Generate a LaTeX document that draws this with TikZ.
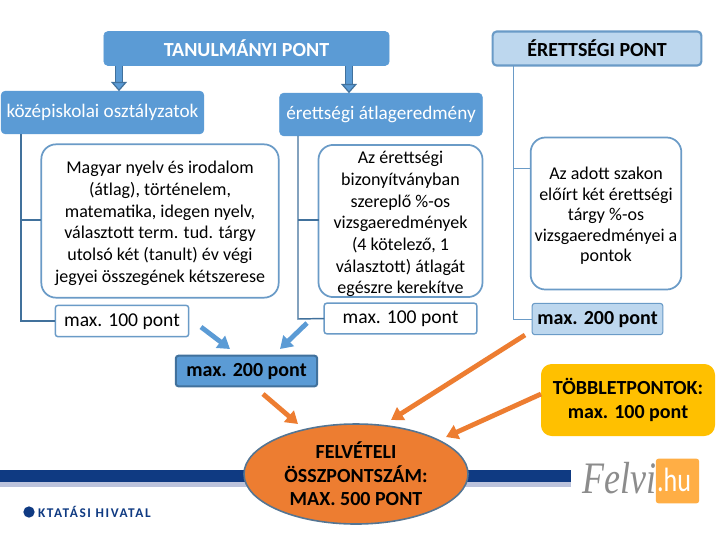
\documentclass[tikz,border=0pt]{standalone}
\usepackage{fontspec}
\setmainfont{Carlito}
\newfontfamily\felvifont{Liberation Serif}
\usetikzlibrary{shapes.geometric,arrows.meta,calc}
\definecolor{mblue}{HTML}{5B9BD5}
\definecolor{dblue}{HTML}{41719C}
\definecolor{lblue}{HTML}{BDD7EE}
\definecolor{edgeb}{HTML}{6A9BC7}
\definecolor{morange}{HTML}{ED7D31}
\definecolor{mgold}{HTML}{FFC000}
\definecolor{barblue}{HTML}{0F3A82}
\definecolor{barlight}{HTML}{BCC3DC}
\definecolor{felvi}{HTML}{FFAE45}
\tikzset{
  x=0.75pt,y=-0.75pt,
  base/.style={inner sep=0pt,outer sep=0pt,align=center,anchor=center},
  low/.style={text height=10pt,text depth=2.5pt},
  bluehead/.style={base,rectangle,rounded corners=3pt,fill=mblue,draw=mblue},
  bodybox/.style={base,rectangle,rounded corners=11pt,draw=edgeb,line width=1.3pt,fill=white,font=\fontsize{13.5}{16.3}\selectfont},
  maxbox/.style={base,low,rectangle,rounded corners=2pt,draw=edgeb,line width=1.1pt,fill=white,font=\fontsize{14.7}{15}\selectfont},
  tree/.style={draw=dblue,line width=1.1pt},
  ltree/.style={draw=edgeb,line width=0.7pt},
  bluearrow/.style={draw=mblue,line width=3.6pt,-{Triangle[length=9pt,width=11pt]}},
  orangearrow/.style={draw=morange,line width=3.6pt,-{Triangle[length=9pt,width=11pt]}},
  downarrow/.style={draw=dblue,double=mblue,double distance=4pt,line width=0.9pt,-{Triangle[length=7pt,width=12pt,fill=mblue,color=dblue]}},
}
\begin{document}
\begin{tikzpicture}
\useasboundingbox[fill=white] (0,0) rectangle (720,540);
% footer bars
\fill[barblue] (0,470) rectangle (571,482);
\fill[barlight] (0,482) rectangle (571,487);
\node[base,circle,fill=barblue,minimum size=8.5pt] (kdot) at (29,512) {};
\node[base,anchor=west,text=barblue,font=\fontsize{10}{10}\selectfont\bfseries\addfontfeature{LetterSpace=12}] (kt) at (38,512) {KTATÁSI HIVATAL};
% felvi logo
\node[base,rectangle,rounded corners=2pt,fill=felvi,minimum width=32.5pt,minimum height=33.5pt] (hubox) at (677.5,481) {};
\node[base,text=white,font=\fontsize{23}{23}\selectfont] (hu) at (674,480) {\scalebox{0.85}[1.1]{.hu}};
\node[base,text=gray!90,font=\fontsize{27}{27}\selectfont\felvifont\itshape] (fv) at (619,478) {\scalebox{1}[1.25]{Felvi}};
% head boxes
\node[bluehead,minimum width=214pt,minimum height=25.5pt,text=white,font=\fontsize{15}{15}\selectfont\bfseries] (tan) at (246.5,48.5) {TANULMÁNYI PONT};
\node[base,rectangle,rounded corners=3pt,fill=lblue,draw=edgeb,line width=1.6pt,minimum width=156.5pt,minimum height=25.5pt,font=\fontsize{15}{15}\selectfont\bfseries] (ere) at (597,48.5) {ÉRETTSÉGI PONT};
\node[bluehead,minimum width=152pt,minimum height=32pt,text=white,font=\fontsize{14.4}{15}\selectfont] (koz) at (102.5,112.5) {középiskolai osztályzatok};
\node[bluehead,minimum width=152pt,minimum height=32pt,text=white,font=\fontsize{14.4}{15}\selectfont] (atl) at (381,114.5) {érettségi átlageredmény};
% body boxes
\node[bodybox,minimum width=178pt,minimum height=115pt] (b1) at (160,221) {\rule{0pt}{13pt}Magyar nyelv és irodalom\\(átlag), történelem,\\matematika, idegen nyelv,\\választott term. tud. tárgy\\utolsó két (tanult) év végi\\jegyei összegének kétszerese};
\node[bodybox,minimum width=123pt,minimum height=112pt] (b2) at (400.5,221) {\rule{0pt}{14pt}Az érettségi\\bizonyítványban\\szereplő \%-os\\vizsgaeredmények\\(4 kötelező, 1\\választott) átlagát\\egészre kerekítve};
\node[bodybox,minimum width=113pt,minimum height=114pt,font=\fontsize{13.5}{15.3}\selectfont] (b3) at (606,213.5) {\rule{0pt}{13pt}Az adott szakon\\előírt két érettségi\\tárgy \%-os\\vizsgaeredményei a\\pontok};
% max boxes
\node[maxbox,minimum width=100pt,minimum height=23.5pt] (m1) at (122,321) {max. 100 pont};
\node[maxbox,minimum width=114.5pt,minimum height=23pt] (m2) at (400.5,318.5) {max. 100 pont};
\node[base,low,rectangle,rounded corners=2pt,fill=lblue,draw=edgeb,line width=0.8pt,minimum width=98pt,minimum height=23.5pt,font=\fontsize{15}{15}\selectfont\bfseries] (m3) at (597.5,319) {max. 200 pont};
\node[base,low,rectangle,rounded corners=2pt,fill=mblue,draw=dblue,line width=1.5pt,minimum width=106pt,minimum height=23pt,font=\fontsize{15}{15}\selectfont\bfseries] (m4) at (246.5,371) {max. 200 pont};
\node[base,rectangle,rounded corners=8pt,fill=mgold,minimum width=130.5pt,minimum height=54pt,font=\fontsize{15}{17.7}\selectfont\bfseries] (tob) at (628,400) {TÖBBLETPONTOK:\\max. 100 pont};
\node[base,ellipse,fill=morange,draw=dblue!70!gray,line width=1.2pt,minimum width=168pt,minimum height=75pt,font=\fontsize{15}{17.6}\selectfont\bfseries] (ell) at (356,474) {FELVÉTELI\\ÖSSZPONTSZÁM:\\MAX. 500 PONT};
% trees
\draw[tree] (koz.south -| 21,0) -- (21,321) -- (m1.west);
\draw[tree] (21,220) -- (21,220 -| b1.west);
\draw[tree] (atl.south -| 298,0) -- (298,319) -- (m2.west);
\draw[tree] (298,220) -- (298,220 -| b2.west);
\draw[ltree] (ere.south -| 513,0) -- (513,319) -- (m3.west);
\draw[ltree] (513,168) -- (513,168 -| b3.west);
% block arrows
\coordinate (a1s) at (tan.south -| 119,0);
\coordinate (a1e) at (koz.north -| 119,0);
\coordinate (a2s) at (tan.south -| 349,0);
\coordinate (a2e) at (atl.north -| 349,0);
\draw[downarrow] (a1s) -- (a1e);
\draw[downarrow] (a2s) -- (a2e);
\coordinate (b1s) at (201,327);
\coordinate (b1e) at (230,349);
\coordinate (b2s) at (307,323);
\coordinate (b2e) at (280,349);
\draw[bluearrow] (b1s) -- (b1e);
\draw[bluearrow] (b2s) -- (b2e);
\coordinate (c1s) at (263,394);
\coordinate (c1e) at (298,424);
\coordinate (c2s) at (525,335);
\coordinate (c2e) at (391,420);
\coordinate (c3s) at (tob.west |- 0,394);
\coordinate (c3e) at (446,437);
\draw[orangearrow] (c1s) -- (c1e);
\draw[orangearrow] (c2s) -- (c2e);
\draw[orangearrow] (c3s) -- (c3e);
\end{tikzpicture}
\end{document}
